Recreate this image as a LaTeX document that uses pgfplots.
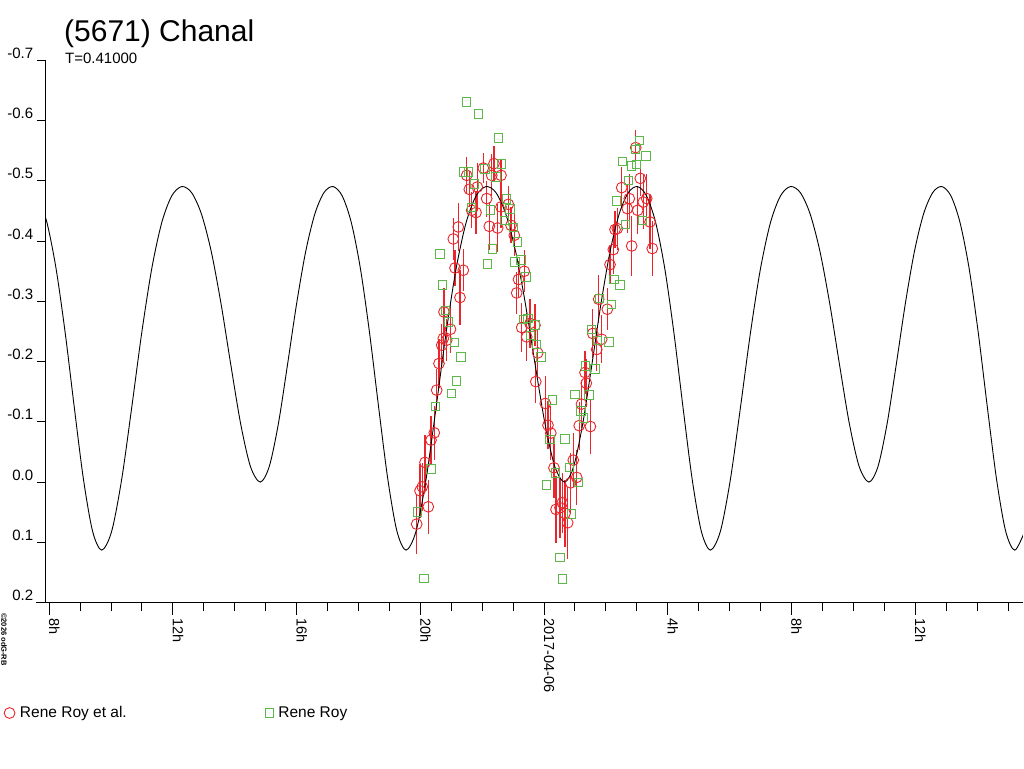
\documentclass[border=0pt]{standalone}
\usepackage{fontspec}
\setmainfont{Liberation Sans}
\usepackage{pgfplots}
\usepackage{pgfplotstable}
\pgfplotsset{compat=1.18}
\definecolor{rr}{RGB}{232,38,44}
\definecolor{gg}{RGB}{92,184,72}

\pgfplotstableread{
x y e
-4.116 0.0697 0.050
-4.009 0.0144 0.045
-3.935 0.0078 0.040
-3.847 -0.0327 0.045
-3.741 0.0410 0.045
-3.653 -0.0697 0.040
-3.547 -0.0818 0.045
-3.469 -0.1526 0.035
-3.395 -0.1968 0.040
-3.307 -0.2272 0.035
-3.256 -0.2383 0.040
-3.233 -0.2824 0.040
-3.146 -0.2355 0.035
-3.023 -0.2537 0.040
-2.932 -0.4035 0.035
-2.877 -0.3554 0.030
-2.771 -0.4234 0.040
-2.716 -0.3063 0.045
-2.609 -0.3516 0.035
-2.499 -0.5091 0.030
-2.415 -0.4859 0.030
-2.338 -0.4511 0.030
-2.198 -0.4473 0.035
-2.156 -0.4897 0.040
-1.962 -0.5212 0.025
-1.853 -0.4705 0.030
-1.768 -0.4245 0.040
-1.691 -0.5091 0.035
-1.617 -0.5285 0.030
-1.497 -0.4217 0.040
-1.390 -0.5091 0.025
-1.390 -0.4566 0.035
-1.154 -0.4610 0.030
-1.067 -0.4262 0.030
-0.960 -0.4096 0.035
-0.883 -0.3139 0.035
-0.824 -0.3363 0.030
-0.721 -0.2565 0.040
-0.640 -0.3499 0.035
-0.559 -0.2410 0.040
-0.453 -0.2632 0.040
-0.291 -0.2604 0.035
-0.204 -0.2144 0.040
-0.265 -0.1667 0.035
0.042 -0.1305 0.045
0.129 -0.0945 0.040
0.220 -0.0813 0.045
0.323 -0.0237 0.050
0.388 0.0453 0.055
0.517 0.0426 0.050
0.592 0.0343 0.050
0.679 0.0519 0.055
0.766 0.0675 0.060
0.863 0.0012 0.050
0.947 -0.0365 0.045
1.057 -0.0078 0.045
1.138 -0.0937 0.040
1.212 -0.1294 0.040
1.326 -0.1819 0.035
1.368 -0.1642 0.040
1.500 -0.0922 0.045
1.575 -0.2466 0.040
1.704 -0.2201 0.035
1.768 -0.3035 0.040
1.865 -0.2371 0.040
2.047 -0.2869 0.035
2.134 -0.3610 0.030
2.241 -0.3859 0.040
2.296 -0.4191 0.030
2.370 -0.4207 0.035
2.512 -0.4887 0.035
2.693 -0.4539 0.040
2.758 -0.4705 0.040
2.835 -0.3919 0.050
2.965 -0.5551 0.030
3.029 -0.4511 0.040
3.113 -0.5041 0.030
3.210 -0.4648 0.045
3.320 -0.4705 0.040
3.427 -0.4317 0.045
3.501 -0.3876 0.045
}\redtab

\pgfplotstableread{
x y
-4.096 0.0493
-3.880 0.1597
-3.653 -0.0221
-3.501 -0.1260
-3.362 -0.3786
-3.275 -0.3272
-3.191 -0.2852
-3.094 -0.2658
-2.984 -0.1471
-2.900 -0.2317
-2.822 -0.1680
-2.683 -0.2078
-2.609 -0.5146
-2.512 -0.6307
-2.435 -0.5146
-2.338 -0.4556
-2.241 -0.4947
-2.111 -0.6108
-1.908 -0.5196
-1.820 -0.3620
-1.723 -0.4516
-1.659 -0.3869
-1.552 -0.5063
-1.465 -0.5710
-1.368 -0.5279
-1.284 -0.4345
-1.206 -0.4698
-1.099 -0.4532
-0.993 -0.4224
-0.938 -0.3653
-0.850 -0.3985
-0.744 -0.3687
-0.588 -0.3403
-0.669 -0.2703
-0.524 -0.2720
-0.436 -0.2438
-0.291 -0.2609
-0.236 -0.2284
-0.097 -0.2078
0.087 0.0050
0.194 -0.0705
0.268 -0.1360
0.378 -0.0149
0.517 0.1255
0.605 0.1609
0.679 -0.0713
0.818 -0.0244
0.896 0.0531
0.996 -0.1459
1.109 0.0005
1.193 -0.1182
1.280 -0.1066
1.348 -0.1929
1.448 -0.1448
1.542 -0.2537
1.649 -0.1879
1.723 -0.2355
1.788 -0.3046
2.102 -0.2327
2.189 -0.2952
2.263 -0.3367
2.350 -0.4665
2.457 -0.3272
2.544 -0.5323
2.628 -0.4279
2.725 -0.5008
2.835 -0.5245
2.952 -0.5522
2.997 -0.5274
3.094 -0.5672
3.191 -0.4345
3.298 -0.5411
}\greentab

\begin{document}
\begin{tikzpicture}[x=1pt,y=1pt]
\useasboundingbox (0,0) rectangle (1024,768);
\fill[white] (0,0) rectangle (1024,768);
\begin{axis}[
  at={(45.7pt,165.4pt)}, anchor=south west, scale only axis,
  width=977.1pt, height=542.3pt,
  xmin=-16.11, xmax=15.48, ymin=-0.7, ymax=0.2, y dir=reverse,
  axis x line*=bottom, axis y line*=left,
  axis line style={line width=0.9pt, black},
  tick align=outside,
  major tick length=12pt, minor tick length=8.5pt,
  every tick/.style={line width=0.9pt, black},
  xtick={-16,-12,-8,-4,0,4,8,12},
  xticklabels={8h,12h,16h,20h,2017-04-06,4h,8h,12h},
  minor xtick={-15,-14,-13,-11,-10,-9,-7,-6,-5,-3,-2,-1,1,2,3,5,6,7,9,10,11,13,14,15},
  ytick={-0.7,-0.6,-0.5,-0.4,-0.3,-0.2,-0.1,0,0.1,0.2},
  yticklabels={-0.7,-0.6,-0.5,-0.4,-0.3,-0.2,-0.1,0.0,0.1,0.2},
  minor ytick={-0.7,-0.6,-0.5,-0.4,-0.3,-0.2,-0.1,0,0.1,0.2},
  every major y tick/.append style={draw=none},
  xticklabel style={font=\fontsize{14.5}{17}\selectfont, rotate=-90, anchor=base west},
  yticklabel style={font=\fontsize{15}{17}\selectfont, anchor=base east, xshift=3pt, yshift=2pt},
  legend columns=2,
  legend style={at={(axis description cs:-0.0427,-0.2036)}, anchor=west, draw=none, fill=none,
    inner sep=0pt, font=\fontsize{15.5}{18}\selectfont, nodes={inner sep=1pt},
    /tikz/every odd column/.append style={column sep=4pt}},
  legend image code/.code={\draw[#1] plot coordinates {(0pt,0pt)};},
]
\addplot[only marks, rr, mark=o, mark size=5.4pt, mark options={line width=0.9pt},
  error bars/.cd, y dir=both, y explicit, error mark=none,
  error bar style={line width=1.1pt, rr}]
  table[x=x, y=y, y error=e] {\redtab};
\addlegendentry{\makebox[244pt][l]{Rene Roy et al.}}
\addplot[black, line width=0.9pt, smooth, forget plot] coordinates {
(-16.365,-0.4751)(-16.07,-0.4308)(-15.775,-0.3543)(-15.48,-0.2478)(-15.185,-0.1237)(-14.89,-0.0049)(-14.595,0.0814)(-14.30,0.113)
(-13.976,0.0814)(-13.6525,-0.0049)(-13.329,-0.1237)(-13.005,-0.2478)(-12.681,-0.3543)(-12.3575,-0.4308)(-12.034,-0.4751)(-11.71,-0.4905)
(-11.393,-0.4804)(-11.076,-0.445)(-10.759,-0.3830)(-10.4425,-0.2963)(-10.126,-0.1949)(-9.809,-0.0973)(-9.492,-0.0261)(-9.175,0.0)
(-8.881,-0.0261)(-8.586,-0.0973)(-8.292,-0.1949)(-7.9975,-0.2963)(-7.703,-0.3830)(-7.409,-0.445)(-7.114,-0.4804)(-6.82,-0.4905)
(-6.525,-0.4751)(-6.23,-0.4308)(-5.935,-0.3543)(-5.64,-0.2478)(-5.345,-0.1237)(-5.05,-0.0049)(-4.755,0.0814)(-4.46,0.113)
(-4.136,0.0814)(-3.8125,-0.0049)(-3.489,-0.1237)(-3.165,-0.2478)(-2.841,-0.3543)(-2.5175,-0.4308)(-2.194,-0.4751)(-1.87,-0.4905)
(-1.553,-0.4804)(-1.236,-0.445)(-0.919,-0.3830)(-0.6025,-0.2963)(-0.286,-0.1949)(0.031,-0.0973)(0.348,-0.0261)(0.665,0.0)
(0.959,-0.0261)(1.254,-0.0973)(1.548,-0.1949)(1.8425,-0.2963)(2.137,-0.3830)(2.431,-0.445)(2.726,-0.4804)(3.02,-0.4905)
(3.315,-0.4751)(3.61,-0.4308)(3.905,-0.3543)(4.20,-0.2478)(4.495,-0.1237)(4.79,-0.0049)(5.085,0.0814)(5.38,0.113)
(5.704,0.0814)(6.0275,-0.0049)(6.351,-0.1237)(6.675,-0.2478)(6.999,-0.3543)(7.3225,-0.4308)(7.646,-0.4751)(7.97,-0.4905)
(8.287,-0.4804)(8.604,-0.445)(8.921,-0.3830)(9.2375,-0.2963)(9.554,-0.1949)(9.871,-0.0973)(10.188,-0.0261)(10.505,0.0)
(10.799,-0.0261)(11.094,-0.0973)(11.388,-0.1949)(11.6825,-0.2963)(11.977,-0.3830)(12.271,-0.445)(12.566,-0.4804)(12.86,-0.4905)
(13.155,-0.4751)(13.45,-0.4308)(13.745,-0.3543)(14.04,-0.2478)(14.335,-0.1237)(14.63,-0.0049)(14.925,0.0814)(15.22,0.113)
(15.544,0.0814)
};
\addplot[only marks, gg, mark=square, mark size=4.2pt, mark options={line width=0.9pt}]
  table[x=x, y=y] {\greentab};
\addlegendentry{Rene Roy}
\end{axis}
\draw[line width=0.9pt] (35.7,165.4) -- (45.7,165.4);
\node[anchor=base west, inner sep=0pt, font=\fontsize{30}{36}\selectfont] at (64,726.3) {(5671) Chanal};
\node[anchor=base west, inner sep=0pt, font=\fontsize{15}{18}\selectfont] at (65,704) {T=0.41000};
\node[anchor=base west, inner sep=0pt, font=\fontsize{7.5}{9}\selectfont\bfseries, rotate=-90] at (1.5,155) {©2026 odG-RB};
\end{tikzpicture}
\end{document}
